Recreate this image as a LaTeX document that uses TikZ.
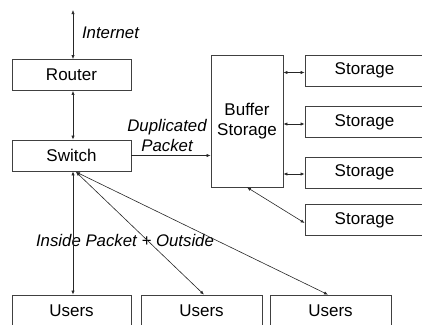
\documentclass[tikz,border=0pt]{standalone}
\usepackage{fontspec}
\setmainfont{Liberation Sans}
\usetikzlibrary{arrows.meta}
\begin{document}
\begin{tikzpicture}[x=1pt,y=-1pt,
  box/.style={draw=black!75,line width=0.7pt,minimum height=31pt,inner sep=0pt,font=\fontsize{17}{19.5}\selectfont},
  link/.style={draw=black!85,line width=0.6pt,{Latex[length=4pt,width=3.2pt]}-{Latex[length=4pt,width=3.2pt]}},
  lbl/.style={font=\fontsize{16.8}{20}\selectfont\itshape,align=center,inner sep=0pt}]
\useasboundingbox (0,0) rectangle (422,324);
\clip (0,0) rectangle (422,324);
% left column
\node[box,minimum width=119pt] (router) at (71.5,75) {Router};
\node[box,minimum width=119pt] (switch) at (71.5,155.5) {Switch};
% buffer and storage units
\node[box,minimum width=72pt,minimum height=132pt,align=center] (buffer) at (247,121) {Buffer\\Storage};
\node[box,minimum width=119pt] (s1) at (364.5,70.5) {Storage};
\node[box,minimum width=119pt] (s2) at (364.5,122) {Storage};
\node[box,minimum width=119pt] (s3) at (364.5,172.5) {Storage};
\node[box,minimum width=119pt] (s4) at (364.5,220) {Storage};
% users
\node[box,minimum width=119pt] (u1) at (71.5,310.5) {Users};
\node[box,minimum width=121pt] (u2) at (201.5,310.5) {Users};
\node[box,minimum width=121pt] (u3) at (330.5,310.5) {Users};
% labels
\node[lbl] (inet) at (110.5,33) {Internet};
\node[lbl] (dup) at (167,135) {Duplicated\\Packet};
\node[lbl] (inside) at (125,240) {Inside Packet + Outside};
% connectors
\coordinate (top) at (73,10);
\coordinate (swb) at (76,172);
\draw[link] (top) -- (top |- router.north);
\draw[link] (top |- router.south) -- (top |- switch.north);
\draw[draw=black!85,line width=0.6pt,-{Latex[length=4pt,width=3.2pt]}] (switch.east) -- (buffer.west |- switch.east);
\draw[link] ([yshift=-2pt]buffer.east |- s1.west) -- ([yshift=-2pt]s1.west);
\draw[link] ([yshift=-2pt]buffer.east |- s2.west) -- ([yshift=-2pt]s2.west);
\draw[link] ([yshift=-1.5pt]buffer.east |- s3.west) -- ([yshift=-1.5pt]s3.west);
\draw[link] (buffer.south) -- ([yshift=-3pt]s4.west);
\draw[link] (top |- switch.south) -- (top |- u1.north);
\draw[link] (swb) -- ([xshift=2.5pt]u2.north);
\draw[link] (swb) -- ([xshift=-2.5pt]u3.north);
\end{tikzpicture}
\end{document}
